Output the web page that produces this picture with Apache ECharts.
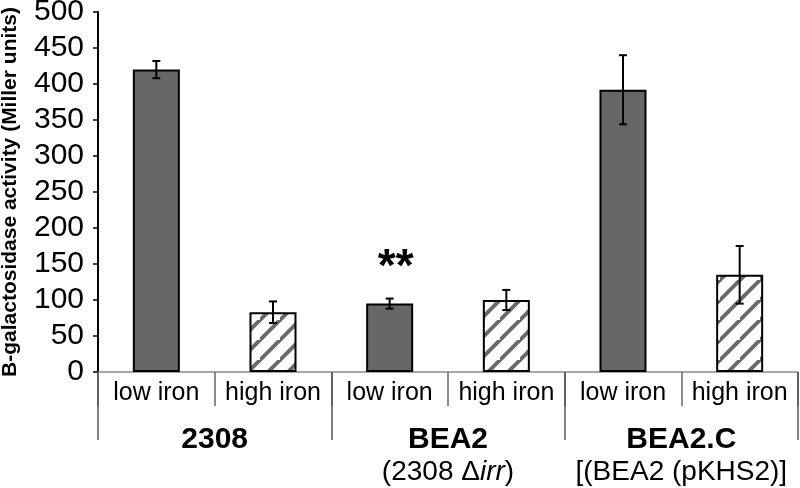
<!DOCTYPE html>
<html>
<head>
<meta charset="utf-8">
<script src="https://cdn.jsdelivr.net/npm/echarts@6/dist/echarts.min.js"></script>
<style>
html,body{margin:0;padding:0;background:#fff;}
#chart{width:800px;height:488px;}
</style>
</head>
<body>
<div id="chart"></div>
<script>
const categories = ['low iron', 'high iron', 'low iron', 'high iron', 'low iron', 'high iron'];
const groups = ['2308', 'BEA2', 'BEA2.C'];
const groupNotes = ['', '(2308 Δirr)', '[(BEA2 (pKHS2)]'];
const italicPart = 'irr';
const values = [420, 83, 95, 100, 392, 135];
const errors = [12, 15, 7, 14, 48, 40];
const significance = ['', '', '**', '', '', ''];
const yTicks = [0, 50, 100, 150, 200, 250, 300, 350, 400, 450, 500];

const FONT = 'Liberation Sans, Arial, sans-serif';

function makeHatch() {
  const c = document.createElement('canvas');
  const s = 20;
  c.width = s; c.height = s;
  const ctx = c.getContext('2d');
  ctx.fillStyle = '#ffffff';
  ctx.fillRect(0, 0, s, s);
  ctx.strokeStyle = '#6a6a6a';
  ctx.lineWidth = 4;
  ctx.beginPath();
  ctx.moveTo(-5, s + 5); ctx.lineTo(s + 5, -5);
  ctx.moveTo(-5 - s, s + 5); ctx.lineTo(5, -5);
  ctx.moveTo(s - 5, 2 * s + 5); ctx.lineTo(2 * s + 5, s - 5);
  ctx.stroke();
  return c;
}
const hatch = makeHatch();

const barData = values.map((v, i) => ({
  value: v,
  itemStyle: {
    color: i % 2 === 0 ? '#676767' : { image: hatch, repeat: 'repeat' },
    borderColor: '#000',
    borderWidth: 2
  },
  label: significance[i] ? {
    show: true,
    formatter: significance[i],
    position: 'top',
    distance: 12,
    offset: [6, 0],
    fontSize: 46,
    fontWeight: 'bold',
    fontFamily: FONT,
    color: '#000'
  } : { show: false }
}));

const errData = values.map((v, i) => [i, v, errors[i]]);

const chart = echarts.init(document.getElementById('chart'), null, { renderer: 'canvas' });
chart.setOption({
  animation: false,
  backgroundColor: '#fff',
  grid: { left: 98, right: 2, top: 12, bottom: 116, containLabel: false, outerBoundsMode: 'none' },
  xAxis: [
    {
      type: 'category',
      data: categories,
      position: 'bottom',
      axisLine: { show: true, lineStyle: { color: '#8a8a8a', width: 1.5 } },
      axisTick: { show: true, interval: 0, length: 34, lineStyle: { color: '#666', width: 1.5 } },
      axisLabel: { interval: 0, margin: 9, fontSize: 25, fontFamily: FONT, color: '#000' },
      splitLine: { show: false }
    },
    {
      type: 'category',
      data: groups,
      position: 'bottom',
      axisLine: { show: false },
      axisTick: { show: true, interval: 0, length: 68, lineStyle: { color: '#555', width: 1.5 } },
      axisLabel: {
        interval: 0,
        margin: 51,
        fontFamily: FONT,
        formatter: function (val, idx) {
          let s = '{b|' + val + '}';
          const note = groupNotes[idx];
          if (note) {
            const k = note.indexOf(italicPart);
            let line = k >= 0
              ? '{s|' + note.slice(0, k) + '}{i|' + italicPart + '}{s|' + note.slice(k + italicPart.length) + '}'
              : '{s|' + note + '}';
            s += '\n' + line;
          }
          return s;
        },
        rich: {
          b: { fontSize: 30, fontWeight: 'bold', fontFamily: FONT, color: '#000', lineHeight: 33 },
          s: { fontSize: 28, fontFamily: FONT, color: '#000', lineHeight: 33 },
          i: { fontSize: 28, fontStyle: 'italic', fontFamily: FONT, color: '#000', lineHeight: 33 }
        }
      },
      splitLine: { show: false }
    }
  ],
  yAxis: {
    type: 'value',
    min: yTicks[0],
    max: yTicks[yTicks.length - 1],
    interval: yTicks[1] - yTicks[0],
    name: 'B-galactosidase activity (Miller units)',
    nameLocation: 'middle',
    nameRotate: 90,
    nameGap: 77,
    nameTextStyle: { fontSize: 21, fontWeight: 'bold', fontFamily: FONT, color: '#000' },
    axisLine: { show: true, lineStyle: { color: '#000', width: 2 } },
    axisTick: { show: true, inside: false, length: 5, lineStyle: { color: '#000', width: 1.5 } },
    axisLabel: { margin: 14, fontSize: 30, fontFamily: FONT, color: '#000' },
    splitLine: { show: false }
  },
  series: [
    {
      type: 'bar',
      xAxisIndex: 0,
      data: barData,
      barWidth: 47,
      z: 2
    },
    {
      type: 'custom',
      xAxisIndex: 0,
      data: errData,
      z: 5,
      renderItem: function (params, api) {
        const x = api.value(0);
        const v = api.value(1);
        const e = api.value(2);
        const hi = api.coord([x, v + e]);
        const lo = api.coord([x, v - e]);
        const cap = 4;
        const st = { stroke: '#000', lineWidth: 2 };
        return {
          type: 'group',
          children: [
            { type: 'line', shape: { x1: hi[0], y1: hi[1], x2: lo[0], y2: lo[1] }, style: st },
            { type: 'line', shape: { x1: hi[0] - cap, y1: hi[1], x2: hi[0] + cap, y2: hi[1] }, style: st },
            { type: 'line', shape: { x1: lo[0] - cap, y1: lo[1], x2: lo[0] + cap, y2: lo[1] }, style: st }
          ]
        };
      }
    }
  ]
});
</script>
</body>
</html>
